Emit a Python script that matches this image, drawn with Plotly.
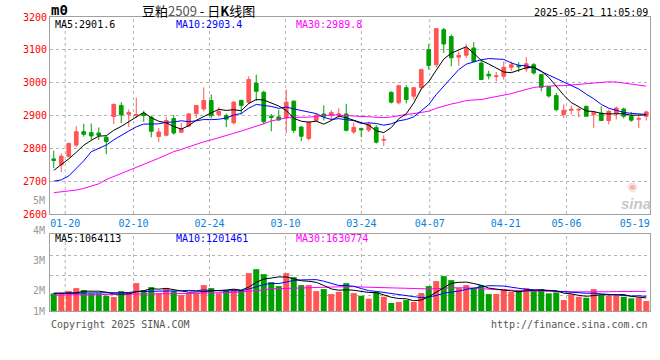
import plotly.graph_objects as go
import pandas as pd

# ---------------- data ----------------
DATES = ["01-16", "01-17", "01-20", "01-21", "01-22", "01-23", "01-24", "01-27",
         "02-05", "02-06", "02-07", "02-10", "02-11", "02-12", "02-13", "02-14",
         "02-17", "02-18", "02-19", "02-20", "02-21", "02-24", "02-25", "02-26",
         "02-27", "02-28", "03-03", "03-04", "03-05", "03-06", "03-07", "03-10",
         "03-11", "03-12", "03-13", "03-14", "03-17", "03-18", "03-19", "03-20",
         "03-21", "03-24", "03-25", "03-26", "03-27", "03-28", "03-31", "04-01",
         "04-02", "04-03", "04-07", "04-08", "04-09", "04-10", "04-11", "04-14",
         "04-15", "04-16", "04-17", "04-18", "04-21", "04-22", "04-23", "04-24",
         "04-25", "04-28", "04-29", "04-30", "05-06", "05-07", "05-08", "05-09",
         "05-12", "05-13", "05-14", "05-15", "05-16", "05-19", "05-20", "05-21"]

OPEN = [2768, 2750, 2776, 2810, 2851, 2848, 2847, 2834, 2897, 2931,
        2904, 2900, 2906, 2895, 2836, 2840, 2891, 2849, 2868, 2906,
        2920, 2946, 2903, 2900, 2878, 2946, 2940, 2999, 2971, 2898,
        2896, 2893, 2944, 2865, 2830, 2885, 2905, 2900, 2902, 2905,
        2850, 2860, 2856, 2864, 2825, 2971, 2939, 2985, 2959, 2985,
        3101, 3055, 3162, 3141, 3078, 3084, 3106, 3060, 3026, 3019,
        3020, 3047, 3052, 3042, 3055, 3025, 2988, 2961, 2903, 2916,
        2917, 2928, 2903, 2908, 2885, 2906, 2920, 2898, 2889, 2898]
HIGH = [2793, 2785, 2818, 2868, 2875, 2876, 2864, 2838, 2937, 2941,
        2918, 2955, 2915, 2900, 2862, 2895, 2901, 2878, 2908, 2932,
        2986, 2964, 2926, 2906, 2944, 2949, 3020, 3025, 2976, 2905,
        2918, 2980, 2946, 2868, 2881, 2905, 2931, 2917, 2922, 2936,
        2878, 2862, 2881, 2871, 2840, 2974, 2994, 2993, 2987, 3043,
        3118, 3167, 3167, 3147, 3096, 3118, 3124, 3068, 3037, 3033,
        3065, 3065, 3063, 3078, 3060, 3026, 2990, 2969, 2934, 2931,
        2923, 2931, 2913, 2928, 2918, 2928, 2924, 2911, 2898, 2915]
LOW = [2740, 2728, 2772, 2805, 2836, 2826, 2826, 2782, 2874, 2877,
       2865, 2893, 2881, 2834, 2819, 2837, 2842, 2847, 2865, 2893,
       2913, 2891, 2897, 2865, 2873, 2903, 2935, 2944, 2873, 2852,
       2883, 2847, 2847, 2822, 2824, 2881, 2885, 2888, 2893, 2852,
       2844, 2834, 2850, 2815, 2807, 2937, 2934, 2937, 2949, 2980,
       3040, 3047, 3091, 3050, 3052, 3076, 3063, 3008, 3010, 3004,
       3010, 3035, 3033, 3033, 3025, 2974, 2955, 2913, 2893, 2903,
       2895, 2897, 2862, 2884, 2873, 2888, 2891, 2881, 2862, 2885]
CLOSE = [2763, 2776, 2815, 2851, 2843, 2838, 2840, 2821, 2934, 2902,
         2909, 2903, 2900, 2852, 2850, 2885, 2847, 2860, 2905, 2931,
         2946, 2900, 2913, 2889, 2941, 2931, 3010, 2974, 2881, 2894,
         2887, 2941, 2855, 2837, 2880, 2901, 2897, 2909, 2905, 2855,
         2864, 2857, 2873, 2819, 2827, 2941, 2991, 2949, 2985, 3040,
         3053, 3165, 3118, 3076, 3084, 3106, 3065, 3010, 3021, 3021,
         3047, 3055, 3049, 3058, 3030, 2986, 2960, 2918, 2916, 2919,
         2919, 2898, 2910, 2885, 2913, 2923, 2898, 2886, 2891, 2911]
VOLUME = [1436000, 1441000, 1628000, 1868000, 1705000, 1437000, 1442000, 1246000, 1139000, 1624000,
          1547000, 2276000, 1703000, 1950000, 1438000, 1872000, 1625000, 1301000, 1440000, 1436000,
          2113000, 1869000, 1441000, 1707000, 1788000, 1709000, 3090000, 3414000, 3007000, 2357000,
          2034000, 3088000, 2765000, 2112000, 2116000, 1627000, 1790000, 1383000, 1569000, 2275000,
          1462000, 1245000, 1002000, 1546000, 1163000, 651000, 733000, 893000, 731000, 1464000,
          2032000, 2440000, 2846000, 2521000, 1871000, 2113000, 1869000, 2115000, 1381000, 1383000,
          1788000, 1546000, 1706000, 1871000, 1627000, 1790000, 1439000, 1520000, 894000, 1358000,
          1163000, 1081000, 1789000, 1301000, 1220000, 1244000, 1163000, 1033000, 1081000, 813000]

# moving-average values before each window is full
MA5_HEAD = [2733, 2750, 2768, 2788]
MA10_HEAD = [2700, 2704, 2716, 2738, 2762, 2790, 2800, 2810, 2826]
MA30_HEAD = [2665, 2667, 2670, 2673, 2678, 2684, 2692, 2705, 2714, 2724,
             2733, 2742, 2752, 2761, 2770, 2780, 2790, 2797, 2805, 2813,
             2820, 2826, 2832, 2839, 2846, 2853, 2860, 2868, 2875]
VMA5_HEAD = [1450000, 1452000, 1461000, 1478000]
VMA10_HEAD = [1440000, 1446000, 1451000, 1455000, 1459000, 1462000, 1466000, 1471000, 1479000]
VMA30_HEAD = [1300000, 1304000, 1311000, 1316000, 1321000, 1326000, 1329000, 1336000, 1341000, 1344000,
              1351000, 1359000, 1371000, 1379000, 1391000, 1399000, 1411000, 1419000, 1431000, 1442000,
              1449000, 1461000, 1478000, 1502000, 1521000, 1552000, 1598000, 1652000, 1718000]

PRICE_TICKS = [2600, 2700, 2800, 2900, 3000, 3100, 3200]
TICK_DATES = ["01-20", "02-10", "02-24", "03-10", "03-24", "04-07", "04-21", "05-06", "05-19"]
VOL_LABELS = ["5M", "4M", "3M", "2M", "1M"]

TITLE_CODE = "m0"
TITLE = "豆粕<span style='color:#555555'>2509</span> - 日<b>K</b>线图"
STAMP = "2025-05-21 11:05:09"
LEGEND_MAIN = ["MA5:2901.6", "MA10:2903.4", "MA30:2989.8"]
LEGEND_VOL = ["MA5:1064113", "MA10:1201461", "MA30:1630774"]
COPYRIGHT = "Copyright 2025 SINA.COM"
URL = "http://finance.sina.com.cn"

# ---------------- derived ----------------
N = len(DATES)
IDX = list(range(N))


def moving(values, n, head):
    s = pd.Series(values, dtype=float).rolling(n).mean().tolist()
    return list(head) + s[len(head):]


MA5 = moving(CLOSE, 5, MA5_HEAD)
MA10 = moving(CLOSE, 10, MA10_HEAD)
MA30 = moving(CLOSE, 30, MA30_HEAD)
VMA5 = moving(VOLUME, 5, VMA5_HEAD)
VMA10 = moving(VOLUME, 10, VMA10_HEAD)
VMA30 = moving(VOLUME, 30, VMA30_HEAD)

RED = "#ff5555"
GREEN = "#00a000"
MA_COLORS = ["#000000", "#0000ff", "#ff00ff"]
BORDER = "#a0a0a0"
GRID = "#b4b4b4"
MONO = "DejaVu Sans Mono"

# ---------------- layout geometry ----------------
W, H = 660, 360
ML, MR, MT, MB = 50, 10, 17, 49
PW = W - ML - MR
PH = H - MT - MB


def fx(px):
    return (px - ML) / PW


def fy(py):
    return (H - MB - py) / PH


MAIN_DOMAIN = [fy(214), 1.0]
VOL_DOMAIN = [0.0, fy(234.3)]

# gridlines sit at idx*N/(N-1) in slot units (as the source chart draws them)
tick_pos = [DATES.index(d) * N / (N - 1) - 0.5 for d in TICK_DATES]

fig = go.Figure()

fig.add_trace(go.Candlestick(
    x=IDX, open=OPEN, high=HIGH, low=LOW, close=CLOSE,
    increasing=dict(line=dict(color=RED, width=1), fillcolor=RED),
    decreasing=dict(line=dict(color=GREEN, width=1), fillcolor=GREEN),
    whiskerwidth=0, xaxis="x", yaxis="y", showlegend=False, hoverinfo="skip"))

for ma, c in zip([MA30, MA10, MA5], [MA_COLORS[2], MA_COLORS[1], MA_COLORS[0]]):
    fig.add_trace(go.Scatter(x=IDX, y=ma, mode="lines", line=dict(color=c, width=1),
                             xaxis="x", yaxis="y", showlegend=False, hoverinfo="skip"))

vol_colors = [RED if c >= o else GREEN for o, c in zip(OPEN, CLOSE)]
fig.add_trace(go.Bar(x=IDX, y=VOLUME, marker=dict(color=vol_colors, line=dict(width=0)),
                     width=0.8, xaxis="x2", yaxis="y2", showlegend=False, hoverinfo="skip"))
for ma, c in zip([VMA30, VMA10, VMA5], [MA_COLORS[2], MA_COLORS[1], MA_COLORS[0]]):
    fig.add_trace(go.Scatter(x=IDX, y=ma, mode="lines", line=dict(color=c, width=1),
                             xaxis="x2", yaxis="y2", showlegend=False, hoverinfo="skip"))

xcommon = dict(range=[-0.5, N - 0.5], showgrid=False, zeroline=False,
               showline=True, mirror=True, linecolor=BORDER, linewidth=1,
               ticks="", fixedrange=True)

fig.update_layout(
    width=W, height=H,
    margin=dict(l=ML, r=MR, t=MT, b=MB, pad=0),
    paper_bgcolor="white", plot_bgcolor="white",
    showlegend=False, hovermode=False, boxgap=0.3,
    xaxis=dict(**xcommon, anchor="y", rangeslider=dict(visible=False),
               tickvals=tick_pos, ticktext=TICK_DATES,
               tickfont=dict(family=MONO, size=10, color="#0a7fd8")),
    xaxis2=dict(**xcommon, anchor="y2", matches="x", showticklabels=False),
    yaxis=dict(domain=MAIN_DOMAIN, range=[2600, 3200.5], tickvals=PRICE_TICKS,
               tickfont=dict(family=MONO, size=10, color="#ff0000"),
               showgrid=True, gridcolor=GRID, griddash="dot", gridwidth=1,
               zeroline=False, showline=True, mirror=True, linecolor=BORDER,
               linewidth=1, ticks="", fixedrange=True),
    yaxis2=dict(domain=VOL_DOMAIN, range=[0, 6.26e6], tickvals=[1.25e6, 2.88e6, 4.51e6],
                showticklabels=False, showgrid=True, gridcolor=GRID, griddash="dot",
                gridwidth=1, zeroline=False, showline=True, mirror=True,
                linecolor=BORDER, linewidth=1, ticks="", fixedrange=True),
)

# vertical dotted gridlines (the last label has none)
for tp in tick_pos[:-1]:
    for yr in ["y domain", "y2 domain"]:
        fig.add_shape(type="line", xref="x", yref=yr, x0=tp, x1=tp, y0=0, y1=1,
                      line=dict(color=GRID, width=1, dash="dot"), layer="below")

ann = []


def text(px, py, s, color="#000000", size=10, xanchor="left", family=MONO, **kw):
    ann.append(dict(x=fx(px), y=fy(py), xref="paper", yref="paper", text=s,
                    showarrow=False, xanchor=xanchor, yanchor="middle",
                    font=dict(family=family, size=size, color=color), **kw))


text(49, 10, "<b>" + TITLE_CODE + "</b>", size=14)
text(140, 10, TITLE, size=13, family="Noto Sans CJK SC")
text(650, 12, STAMP, xanchor="right", size=10)

for s, px, c in zip(LEGEND_MAIN, [53, 174, 294], MA_COLORS):
    text(px, 24, s, color=c)
for s, px, c in zip(LEGEND_VOL, [53, 174, 294], MA_COLORS):
    text(px, 239, s, color=c)

for s, py in zip(VOL_LABELS, [200, 230.3, 260, 290.3, 311]):
    text(47, py, s, color="#999999", xanchor="right", size=10)

text(49, 324, COPYRIGHT, color="#555555")
text(650, 324, URL, color="#555555", xanchor="right")

# sina watermark
text(633, 186, "◉", color="#f2b6b6", size=11, xanchor="center", family="DejaVu Sans")
text(636, 203, "<b><i>sina</i></b>", color="#c8c8c8", size=15, xanchor="center",
     family="Liberation Sans")

fig.update_layout(annotations=ann)

fig.write_html("out.html", config={"displayModeBar": False},
               post_script="document.body.style.margin='0px';")
